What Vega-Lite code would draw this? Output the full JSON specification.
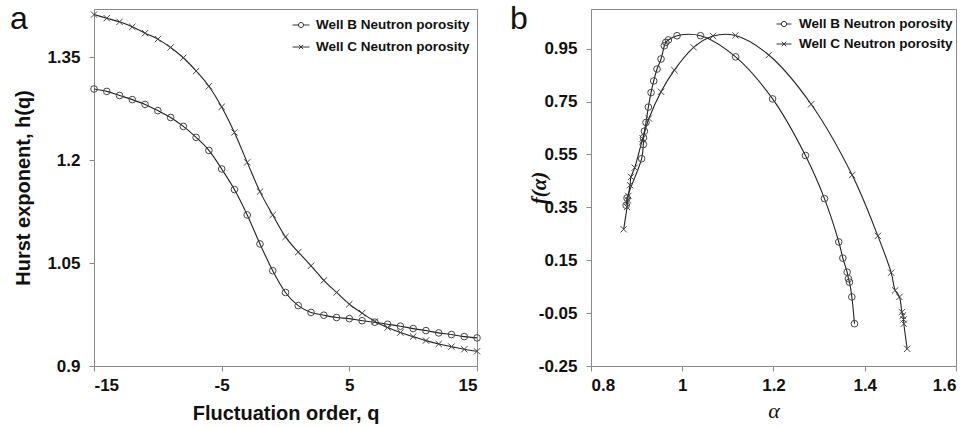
{
  "$schema": "https://vega.github.io/schema/vega-lite/v6.json",
  "autosize": {"type": "pad"},
  "padding": {"left": 9, "top": 2, "right": 17, "bottom": 0},
  "background": "white",
  "spacing": 114,
  "bounds": "flush",
  "datasets": {
    "hq": [
      {"q": -15, "h": 1.3035, "series": "Well B Neutron porosity"},
      {"q": -14, "h": 1.300, "series": "Well B Neutron porosity"},
      {"q": -13, "h": 1.294, "series": "Well B Neutron porosity"},
      {"q": -12, "h": 1.288, "series": "Well B Neutron porosity"},
      {"q": -11, "h": 1.281, "series": "Well B Neutron porosity"},
      {"q": -10, "h": 1.272, "series": "Well B Neutron porosity"},
      {"q": -9, "h": 1.262, "series": "Well B Neutron porosity"},
      {"q": -8, "h": 1.249, "series": "Well B Neutron porosity"},
      {"q": -7, "h": 1.233, "series": "Well B Neutron porosity"},
      {"q": -6, "h": 1.214, "series": "Well B Neutron porosity"},
      {"q": -5, "h": 1.187, "series": "Well B Neutron porosity"},
      {"q": -4, "h": 1.157, "series": "Well B Neutron porosity"},
      {"q": -3, "h": 1.120, "series": "Well B Neutron porosity"},
      {"q": -2, "h": 1.0778, "series": "Well B Neutron porosity"},
      {"q": -1, "h": 1.0388, "series": "Well B Neutron porosity"},
      {"q": 0, "h": 1.0071, "series": "Well B Neutron porosity"},
      {"q": 1, "h": 0.988, "series": "Well B Neutron porosity"},
      {"q": 2, "h": 0.978, "series": "Well B Neutron porosity"},
      {"q": 3, "h": 0.974, "series": "Well B Neutron porosity"},
      {"q": 4, "h": 0.9706, "series": "Well B Neutron porosity"},
      {"q": 5, "h": 0.969, "series": "Well B Neutron porosity"},
      {"q": 6, "h": 0.966, "series": "Well B Neutron porosity"},
      {"q": 7, "h": 0.9638, "series": "Well B Neutron porosity"},
      {"q": 8, "h": 0.9609, "series": "Well B Neutron porosity"},
      {"q": 9, "h": 0.958, "series": "Well B Neutron porosity"},
      {"q": 10, "h": 0.9545, "series": "Well B Neutron porosity"},
      {"q": 11, "h": 0.9516, "series": "Well B Neutron porosity"},
      {"q": 12, "h": 0.9482, "series": "Well B Neutron porosity"},
      {"q": 13, "h": 0.9458, "series": "Well B Neutron porosity"},
      {"q": 14, "h": 0.9428, "series": "Well B Neutron porosity"},
      {"q": 15, "h": 0.9409, "series": "Well B Neutron porosity"},
      {"q": -15, "h": 1.4119, "series": "Well C Neutron porosity"},
      {"q": -14, "h": 1.4066, "series": "Well C Neutron porosity"},
      {"q": -13, "h": 1.4013, "series": "Well C Neutron porosity"},
      {"q": -12, "h": 1.394, "series": "Well C Neutron porosity"},
      {"q": -11, "h": 1.3848, "series": "Well C Neutron porosity"},
      {"q": -10, "h": 1.3761, "series": "Well C Neutron porosity"},
      {"q": -9, "h": 1.364, "series": "Well C Neutron porosity"},
      {"q": -8, "h": 1.349, "series": "Well C Neutron porosity"},
      {"q": -7, "h": 1.3297, "series": "Well C Neutron porosity"},
      {"q": -6, "h": 1.3074, "series": "Well C Neutron porosity"},
      {"q": -5, "h": 1.2774, "series": "Well C Neutron porosity"},
      {"q": -4, "h": 1.2402, "series": "Well C Neutron porosity"},
      {"q": -3, "h": 1.1966, "series": "Well C Neutron porosity"},
      {"q": -2, "h": 1.154, "series": "Well C Neutron porosity"},
      {"q": -1, "h": 1.120, "series": "Well C Neutron porosity"},
      {"q": 0, "h": 1.088, "series": "Well C Neutron porosity"},
      {"q": 1, "h": 1.066, "series": "Well C Neutron porosity"},
      {"q": 2, "h": 1.046, "series": "Well C Neutron porosity"},
      {"q": 3, "h": 1.0247, "series": "Well C Neutron porosity"},
      {"q": 4, "h": 1.0071, "series": "Well C Neutron porosity"},
      {"q": 5, "h": 0.990, "series": "Well C Neutron porosity"},
      {"q": 6, "h": 0.977, "series": "Well C Neutron porosity"},
      {"q": 7, "h": 0.9648, "series": "Well C Neutron porosity"},
      {"q": 8, "h": 0.956, "series": "Well C Neutron porosity"},
      {"q": 9, "h": 0.9487, "series": "Well C Neutron porosity"},
      {"q": 10, "h": 0.9428, "series": "Well C Neutron porosity"},
      {"q": 11, "h": 0.937, "series": "Well C Neutron porosity"},
      {"q": 12, "h": 0.9321, "series": "Well C Neutron porosity"},
      {"q": 13, "h": 0.9282, "series": "Well C Neutron porosity"},
      {"q": 14, "h": 0.9243, "series": "Well C Neutron porosity"},
      {"q": 15, "h": 0.9214, "series": "Well C Neutron porosity"}
    ],
    "spec": [
      {"o": 1, "alpha": 0.877, "f": 0.358, "series": "Well B Neutron porosity"},
      {"o": 2, "alpha": 0.879, "f": 0.385, "series": "Well B Neutron porosity"},
      {"o": 3, "alpha": 0.911, "f": 0.534, "series": "Well B Neutron porosity"},
      {"o": 4, "alpha": 0.9147, "f": 0.5875, "series": "Well B Neutron porosity"},
      {"o": 5, "alpha": 0.9150, "f": 0.613, "series": "Well B Neutron porosity"},
      {"o": 6, "alpha": 0.917, "f": 0.638, "series": "Well B Neutron porosity"},
      {"o": 7, "alpha": 0.9206, "f": 0.671, "series": "Well B Neutron porosity"},
      {"o": 8, "alpha": 0.9257, "f": 0.729, "series": "Well B Neutron porosity"},
      {"o": 9, "alpha": 0.9316, "f": 0.784, "series": "Well B Neutron porosity"},
      {"o": 10, "alpha": 0.9375, "f": 0.828, "series": "Well B Neutron porosity"},
      {"o": 11, "alpha": 0.9447, "f": 0.873, "series": "Well B Neutron porosity"},
      {"o": 12, "alpha": 0.9535, "f": 0.911, "series": "Well B Neutron porosity"},
      {"o": 13, "alpha": 0.9608, "f": 0.961, "series": "Well B Neutron porosity"},
      {"o": 14, "alpha": 0.964, "f": 0.974, "series": "Well B Neutron porosity"},
      {"o": 15, "alpha": 0.9696, "f": 0.983, "series": "Well B Neutron porosity"},
      {"o": 16, "alpha": 0.9886, "f": 0.999, "series": "Well B Neutron porosity"},
      {"o": 17, "alpha": 1.040, "f": 0.999, "series": "Well B Neutron porosity"},
      {"o": 18, "alpha": 1.117, "f": 0.919, "series": "Well B Neutron porosity"},
      {"o": 19, "alpha": 1.198, "f": 0.76, "series": "Well B Neutron porosity"},
      {"o": 20, "alpha": 1.270, "f": 0.546, "series": "Well B Neutron porosity"},
      {"o": 21, "alpha": 1.3117, "f": 0.383, "series": "Well B Neutron porosity"},
      {"o": 22, "alpha": 1.3431, "f": 0.219, "series": "Well B Neutron porosity"},
      {"o": 23, "alpha": 1.352, "f": 0.158, "series": "Well B Neutron porosity"},
      {"o": 24, "alpha": 1.3614, "f": 0.105, "series": "Well B Neutron porosity"},
      {"o": 25, "alpha": 1.3643, "f": 0.080, "series": "Well B Neutron porosity"},
      {"o": 26, "alpha": 1.3665, "f": 0.067, "series": "Well B Neutron porosity"},
      {"o": 27, "alpha": 1.3717, "f": 0.011, "series": "Well B Neutron porosity"},
      {"o": 28, "alpha": 1.3775, "f": -0.090, "series": "Well B Neutron porosity"},
      {"o": 1, "alpha": 0.8716, "f": 0.267, "series": "Well C Neutron porosity"},
      {"o": 2, "alpha": 0.879, "f": 0.351, "series": "Well C Neutron porosity"},
      {"o": 3, "alpha": 0.8805, "f": 0.377, "series": "Well C Neutron porosity"},
      {"o": 4, "alpha": 0.8818, "f": 0.393, "series": "Well C Neutron porosity"},
      {"o": 5, "alpha": 0.8855, "f": 0.434, "series": "Well C Neutron porosity"},
      {"o": 6, "alpha": 0.8877, "f": 0.465, "series": "Well C Neutron porosity"},
      {"o": 7, "alpha": 0.8958, "f": 0.50, "series": "Well C Neutron porosity"},
      {"o": 8, "alpha": 0.9133, "f": 0.61, "series": "Well C Neutron porosity"},
      {"o": 9, "alpha": 0.927, "f": 0.686, "series": "Well C Neutron porosity"},
      {"o": 10, "alpha": 0.9535, "f": 0.787, "series": "Well C Neutron porosity"},
      {"o": 11, "alpha": 0.9827, "f": 0.869, "series": "Well C Neutron porosity"},
      {"o": 12, "alpha": 1.025, "f": 0.955, "series": "Well C Neutron porosity"},
      {"o": 13, "alpha": 1.0675, "f": 0.998, "series": "Well C Neutron porosity"},
      {"o": 14, "alpha": 1.1165, "f": 1.0, "series": "Well C Neutron porosity"},
      {"o": 15, "alpha": 1.1897, "f": 0.926, "series": "Well C Neutron porosity"},
      {"o": 16, "alpha": 1.2825, "f": 0.74, "series": "Well C Neutron porosity"},
      {"o": 17, "alpha": 1.3724, "f": 0.472, "series": "Well C Neutron porosity"},
      {"o": 18, "alpha": 1.4287, "f": 0.242, "series": "Well C Neutron porosity"},
      {"o": 19, "alpha": 1.4579, "f": 0.103, "series": "Well C Neutron porosity"},
      {"o": 20, "alpha": 1.4667, "f": 0.036, "series": "Well C Neutron porosity"},
      {"o": 21, "alpha": 1.476, "f": 0.011, "series": "Well C Neutron porosity"},
      {"o": 22, "alpha": 1.4814, "f": -0.046, "series": "Well C Neutron porosity"},
      {"o": 23, "alpha": 1.4835, "f": -0.059, "series": "Well C Neutron porosity"},
      {"o": 24, "alpha": 1.485, "f": -0.074, "series": "Well C Neutron porosity"},
      {"o": 25, "alpha": 1.4857, "f": -0.090, "series": "Well C Neutron porosity"},
      {"o": 26, "alpha": 1.493, "f": -0.185, "series": "Well C Neutron porosity"}
    ]
  },
  "hconcat": [
    {
      "width": 383,
      "height": 357,
      "data": {"name": "hq"},
      "title": {"text": "a", "anchor": "start", "frame": "group", "orient": "top", "offset": -27, "dx": -84, "baseline": "top", "font": "Liberation Sans", "fontSize": 32, "fontWeight": "normal", "color": "#111"},
      "encoding": {
        "x": {"field": "q", "type": "quantitative", "scale": {"domain": [-15, 15], "nice": false, "zero": false},
              "axis": {"values": [-15, -5, 5, 15], "title": "Fluctuation order, q", "labelExpr": "replace(format(datum.value, 'd'), '\u2212', '-')", "labelPadding": 6, "titlePadding": 10}},
        "y": {"field": "h", "type": "quantitative", "scale": {"domain": [0.9, 1.42], "nice": false, "zero": false},
              "axis": {"values": [0.9, 1.05, 1.2, 1.35], "title": "Hurst exponent, h(q)", "labelExpr": "format(datum.value, '.2~f')", "labelPadding": 9, "titlePadding": 13}}
      },
      "layer": [
        {
          "mark": {"type": "line", "interpolate": "monotone", "color": "#222", "strokeWidth": 1.1},
          "encoding": {"detail": {"field": "series"}}
        },
        {
          "transform": [{"filter": "datum.series === 'Well B Neutron porosity'"}],
          "mark": {"type": "point", "filled": false, "color": "#444", "strokeWidth": 1, "size": 44, "opacity": 1, "shape": "circle"},
          "encoding": {}
        },
        {
          "transform": [{"filter": "datum.series === 'Well C Neutron porosity'"}],
          "mark": {"type": "point", "filled": false, "color": "#444", "strokeWidth": 1, "size": 40, "opacity": 1, "shape": "M-1,-1L1,1M-1,1L1,-1"},
          "encoding": {}
        },
        {
          "mark": {"type": "point", "filled": false, "color": "#333", "strokeWidth": 1, "size": 289, "opacity": 0},
          "encoding": {
            "shape": {"field": "series", "type": "nominal",
                      "scale": {"domain": ["Well B Neutron porosity", "Well C Neutron porosity"], "range": ["M-1,0L-0.3,0M0.3,0L1,0M0.3,0A0.3,0.3 0 1 1 -0.3,0A0.3,0.3 0 1 1 0.3,0", "M-1,0L1,0M-0.25,-0.25L0.25,0.25M-0.25,0.25L0.25,-0.25"]},
                      "legend": {"title": null, "orient": "top-right", "offset": 7, "rowPadding": 6, "symbolSize": 289, "symbolOpacity": 1, "symbolStrokeColor": "#333", "symbolStrokeWidth": 1, "labelOffset": 6}}
          }
        }
      ]
    },
    {
      "width": 365,
      "height": 357,
      "data": {"name": "spec"},
      "title": {"text": "b", "anchor": "start", "frame": "group", "orient": "top", "offset": -27, "dx": -81, "baseline": "top", "font": "Liberation Sans", "fontSize": 32, "fontWeight": "normal", "color": "#111"},
      "encoding": {
        "x": {"field": "alpha", "type": "quantitative", "scale": {"domain": [0.8, 1.6], "nice": false, "zero": false},
              "axis": {"values": [0.8, 1, 1.2, 1.4, 1.6], "title": "α", "titleFont": "Liberation Serif", "titleFontStyle": "italic", "titleFontWeight": "normal", "titleFontSize": 22, "labelExpr": "format(datum.value, '.1~f')", "labelPadding": 6, "titlePadding": 7}},
        "y": {"field": "f", "type": "quantitative", "scale": {"domain": [-0.25, 1.1], "nice": false, "zero": false},
              "axis": {"values": [-0.25, -0.05, 0.15, 0.35, 0.55, 0.75, 0.95], "title": "f(α)", "titleFont": "Liberation Serif", "titleFontStyle": "italic", "titleFontWeight": "bold", "titleFontSize": 21, "labelExpr": "replace(format(datum.value, '.2~f'), '\u2212', '-')", "labelPadding": 9, "titlePadding": -11}}
      },
      "layer": [
        {
          "mark": {"type": "line", "interpolate": "catmull-rom", "color": "#222", "strokeWidth": 1.1},
          "encoding": {"detail": {"field": "series"}, "order": {"field": "o", "type": "quantitative"}}
        },
        {
          "transform": [{"filter": "datum.series === 'Well B Neutron porosity'"}],
          "mark": {"type": "point", "filled": false, "color": "#444", "strokeWidth": 1, "size": 44, "opacity": 1, "shape": "circle"},
          "encoding": {}
        },
        {
          "transform": [{"filter": "datum.series === 'Well C Neutron porosity'"}],
          "mark": {"type": "point", "filled": false, "color": "#444", "strokeWidth": 1, "size": 40, "opacity": 1, "shape": "M-1,-1L1,1M-1,1L1,-1"},
          "encoding": {}
        },
        {
          "mark": {"type": "point", "filled": false, "color": "#333", "strokeWidth": 1, "size": 225, "opacity": 0},
          "encoding": {
            "shape": {"field": "series", "type": "nominal",
                      "scale": {"domain": ["Well B Neutron porosity", "Well C Neutron porosity"], "range": ["M-1,0L-0.35,0M0.35,0L1,0M0.35,0A0.35,0.35 0 1 1 -0.35,0A0.35,0.35 0 1 1 0.35,0", "M-1,0L1,0M-0.3,-0.3L0.3,0.3M-0.3,0.3L0.3,-0.3"]},
                      "legend": {"title": null, "orient": "none", "legendX": 185, "legendY": 7, "rowPadding": 5, "symbolSize": 225, "symbolOpacity": 1, "symbolStrokeColor": "#333", "symbolStrokeWidth": 1, "labelOffset": 7}}
          }
        }
      ]
    }
  ],
  "resolve": {"scale": {"shape": "independent"}, "legend": {"shape": "independent"}},
  "config": {
    "view": {"stroke": "#8a8a8a", "strokeWidth": 1},
    "axis": {"domainColor": "#8a8a8a", "tickColor": "#8a8a8a", "tickSize": 5, "grid": false,
             "labelFont": "Liberation Sans", "labelFontWeight": "bold", "labelFontSize": 17, "labelColor": "#111",
             "titleFont": "Liberation Sans", "titleFontWeight": "bold", "titleFontSize": 20, "titleColor": "#111"},
    "legend": {"labelFont": "Liberation Sans", "labelFontWeight": "bold", "labelFontSize": 13.5, "labelColor": "#111", "padding": 0}
  }
}
